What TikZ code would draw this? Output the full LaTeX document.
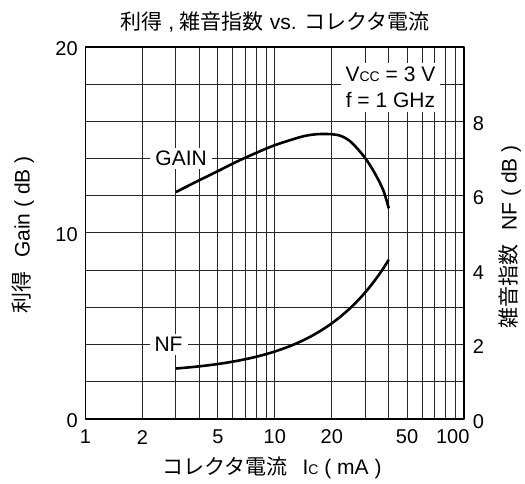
\documentclass[tikz,border=0pt]{standalone}
\usepackage{fontspec}
\setmainfont{Liberation Sans}
\newfontfamily\jp{Noto Sans CJK JP}
\tikzset{
  chart/.style={
    line cap=butt,
    line join=round
  },
  grid-line/.style={line width=1pt, black!85},
  frame/.style={line width=1.8pt, draw=black},
  curve/.style={line width=2.6pt, black},
  txt/.style={font=\fontsize{21}{26}\selectfont, inner sep=0pt},
  tick-label/.style={font=\fontsize{20}{24}\selectfont, inner sep=0pt},
  masked/.style={txt, fill=white, inner xsep=5pt, inner ysep=3pt}
}
\newcommand{\subc}[1]{{\fontsize{14}{14}\selectfont #1}}

\begin{document}
\begin{tikzpicture}[chart, x=1pt, y=1pt]
  \useasboundingbox (0,0) rectangle (525,484);

  \node[txt] (title) at (275,462) {{\jp 利得} , {\jp 雑音指数} vs. {\jp コレクタ電流}};
  \node[txt] (xlabel) at (272,16) {{\jp コレクタ電流}\hspace{15pt}I\subc{C} ( mA )};
  \node[txt, rotate=90] (ylabel-left) at (23,249) {{\jp 利得}\hspace{14pt}Gain ( dB )};
  \node[txt, rotate=90] (ylabel-right) at (510,247) {{\jp 雑音指数}\hspace{14pt}NF ( dB )};

  \begin{scope}[shift={(85.5,65)}, x=189.3pt, y=18.6pt]
    % grid
    \foreach \k in {2,...,10,20,30,...,90}
      \draw[grid-line] ({log10(\k)},0) -- ({log10(\k)},20);
    \foreach \g in {2,4,...,18}
      \draw[grid-line] (0,\g) -- (2,\g);
    \draw[frame] (0,0) rectangle (2,20);

    % ticks
    \foreach \k in {1,2,5,10,20,50}
      \node[tick-label] (xt-\k) at ({log10(\k)},-0.97) {\k};
    \node[tick-label] (xt-100) at (1.94,-0.97) {100};
    \foreach \g in {0,10,20}
      \node[tick-label, anchor=east] (yl-\g) at (-0.04,\g-0.08) {\g};
    \foreach \n in {0,2,...,8}
      \node[tick-label, anchor=west] (yr-\n) at (2.045,2*\n-0.12) {\n};

    % curves
    \draw[curve] plot[smooth] coordinates {
      (0.4771,12.2) (0.6,12.83) (0.7,13.33) (0.8,13.84) (0.9,14.3) (1.0,14.72)
      (1.143,15.18) (1.222,15.31) (1.301,15.31) (1.354,15.2) (1.406,14.86)
      (1.476,14.05) (1.529,13.2) (1.573,12.3) (1.6021,11.33)};
    \draw[curve] plot[domain=0.4771:1.6021, samples=40, smooth]
      (\x,{2.42+0.0812*exp(2.70*\x)});

    % labels
    \node[masked] (gain-label) at (0.505,14) {GAIN};
    \node[masked] (nf-label) at (0.4385,4) {NF};
    \node[masked, align=center, inner xsep=4.5pt, inner ysep=4pt] (cond) at (1.611,17.82)
      {V\subc{CC} = 3 V\\f = 1 GHz};
  \end{scope}
\end{tikzpicture}
\end{document}
